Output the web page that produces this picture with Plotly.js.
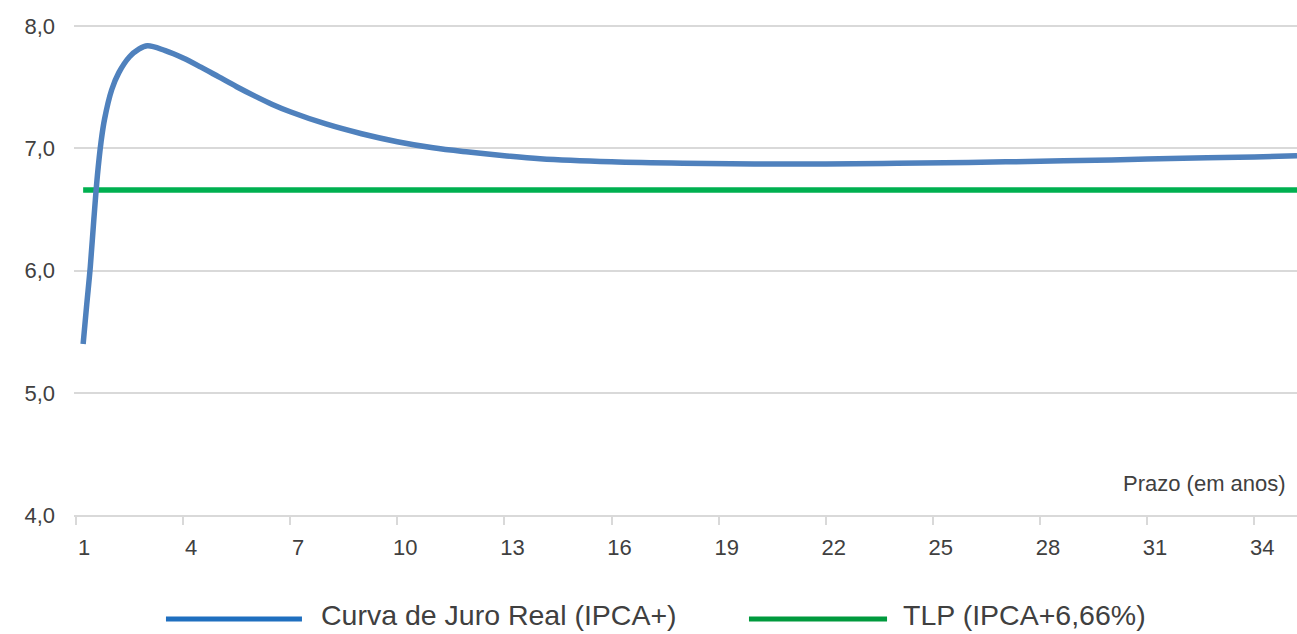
<!DOCTYPE html>
<html>
<head>
<meta charset="utf-8">
<script src="https://cdn.plot.ly/plotly-3.0.1.min.js"></script>
<style>html,body{margin:0;padding:0;background:#fff;}#chart{width:1297px;height:634px;}</style>
</head>
<body>
<div id="chart"></div>
<script>
// Prazo (anos) e taxa real (% a.a.)
const prazoAnos = [1.2, 1.3, 1.4, 1.5, 1.6, 1.7, 1.8, 2.0, 2.2, 2.5, 2.75, 3.0, 3.5, 4.0, 4.5, 5.0, 5.5, 6.0, 6.5, 7.0, 8.0, 9.0, 10.0, 11.0, 12.0, 13.0, 14.0, 16.0, 18.0, 20.0, 22.0, 24.0, 26.0, 28.0, 30.0, 32.0, 34.0, 35.2];
const curvaJuroReal = [5.40, 5.72, 6.03, 6.42, 6.78, 7.05, 7.24, 7.48, 7.62, 7.75, 7.81, 7.84, 7.80, 7.74, 7.665, 7.585, 7.505, 7.43, 7.36, 7.30, 7.20, 7.12, 7.055, 7.005, 6.97, 6.94, 6.915, 6.89, 6.878, 6.873, 6.873, 6.878, 6.885, 6.895, 6.905, 6.92, 6.93, 6.94];
const tlpPrazo = [1.2, 35.2];
const tlpTaxa = [6.66, 6.66];

const xTickVals = [1, 4, 7, 10, 13, 16, 19, 22, 25, 28, 31, 34];
const xTickText = ["1", "4", "7", "10", "13", "16", "19", "22", "25", "28", "31", "34"];
const yTickVals = [4, 5, 6, 7, 8];
const yTickText = ["4,0", "5,0", "6,0", "7,0", "8,0"];
const seriesNames = ["Curva de Juro Real (IPCA+)", "TLP (IPCA+6,66%)"];
const axisTitle = "Prazo (em anos)";

const blue = "#4F81BD";
const green = "#00B050";
const legendBlue = "#1F6FBF";
const legendGreen = "#009A3D";
const textColor = "#404040";
const font = "Liberation Sans, Arial, sans-serif";

const traces = [
  {x: tlpPrazo, y: tlpTaxa, name: seriesNames[1], mode: "lines",
   line: {color: green, width: 5.5}, hoverinfo: "skip", showlegend: false},
  {x: prazoAnos, y: curvaJuroReal, name: seriesNames[0], mode: "lines",
   line: {color: blue, width: 5.5, shape: "spline", smoothing: 1}, showlegend: false}
];

const layout = {
  width: 1297, height: 634,
  margin: {l: 74, r: 0, t: 25, b: 119},
  paper_bgcolor: "#fff", plot_bgcolor: "#fff",
  font: {family: font, color: textColor},
  showlegend: false,
  xaxis: {
    range: [0.944, 35.2], tickvals: xTickVals, ticktext: xTickText,
    showgrid: false, zeroline: false, showline: true, linecolor: "#D9D9D9", linewidth: 2,
    ticks: "outside", ticklen: 8, tickwidth: 2, tickcolor: "#D9D9D9",
    ticklabelshift: 8, ticklabelstandoff: 4,
    tickfont: {family: font, size: 22, color: textColor}
  },
  yaxis: {
    range: [4, 8.01], tickvals: yTickVals, ticktext: yTickText,
    showgrid: true, gridcolor: "#D9D9D9", gridwidth: 2, zeroline: false, showline: false,
    ticks: "", ticklabelstandoff: 18,
    tickfont: {family: font, size: 22, color: textColor}
  },
  shapes: [
    {type: "line", xref: "paper", yref: "paper", x0: 0.0752, x1: 0.1864, y0: -0.212, y1: -0.212,
     line: {color: legendBlue, width: 5}},
    {type: "line", xref: "paper", yref: "paper", x0: 0.5519, x1: 0.6648, y0: -0.212, y1: -0.212,
     line: {color: legendGreen, width: 5}}
  ],
  annotations: [
    {xref: "paper", yref: "paper", x: 0.9926, y: 0.0653, xanchor: "right", yanchor: "middle",
     text: axisTitle, showarrow: false, font: {family: font, size: 22, color: textColor}},
    {xref: "paper", yref: "paper", x: 0.200, y: -0.205, xanchor: "left", yanchor: "middle",
     text: seriesNames[0], showarrow: false, font: {family: font, size: 28.5, color: textColor}},
    {xref: "paper", yref: "paper", x: 0.676, y: -0.205, xanchor: "left", yanchor: "middle",
     text: seriesNames[1], showarrow: false, font: {family: font, size: 28.5, color: textColor}}
  ]
};

Plotly.newPlot("chart", traces, layout, {displayModeBar: false, staticPlot: true});
</script>
</body>
</html>
